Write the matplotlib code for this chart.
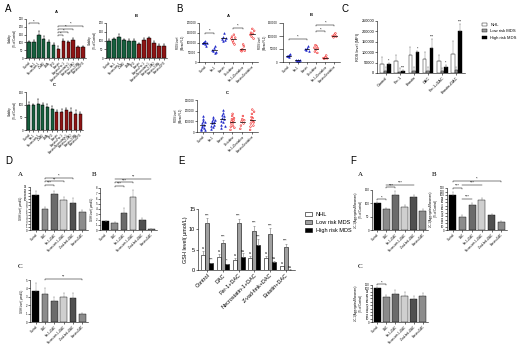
import numpy as np
import matplotlib.pyplot as plt

plt.rcParams['font.family'] = ['Liberation Sans', 'DejaVu Sans']
plt.rcParams['axes.linewidth'] = 0.4
plt.rcParams['xtick.major.width'] = 0.4
plt.rcParams['ytick.major.width'] = 0.4
plt.rcParams['xtick.major.size'] = 1.2
plt.rcParams['ytick.major.size'] = 1.2
plt.rcParams['xtick.major.pad'] = 0.8
plt.rcParams['ytick.major.pad'] = 0.8

# ---- data ----
via_labels = ["Control", "Fer-1", "Necrostatin-1", "Z-VAD", "3-MA", "DFO",
              "Erastin", "Erastin+Fer-1", "Erastin+Necrostatin-1",
              "Erastin+Z-VAD", "Erastin+3-MA", "Erastin+DFO"]
via_a = [100, 105, 148, 125, 103, 85, 60, 110, 100, 118, 68, 70]
via_a_err = [8, 10, 25, 15, 12, 10, 15, 10, 8, 12, 10, 8]
via_b = [100, 108, 122, 103, 100, 100, 80, 103, 113, 85, 70, 70]
via_b_err = [6, 8, 15, 6, 6, 6, 8, 10, 8, 10, 10, 10]
via_c = [100, 97, 102, 97, 92, 82, 72, 73, 77, 70, 65, 65]
via_c_err = [12, 5, 20, 8, 10, 12, 8, 10, 8, 15, 15, 8]

ros_labels = ["Control", "Fer-1", "Erastin", "Decitabine",
              "Fer-1+Decitabine", "Erastin+Decitabine"]
ros_a = [[100000, 95000, 105000, 90000, 110000, 80000, 98000],
         [60000, 55000, 70000, 45000, 80000, 50000],
         [120000, 110000, 130000, 150000, 115000, 125000],
         [120000, 130000, 110000, 100000, 140000, 90000, 125000],
         [60000, 55000, 65000, 90000, 80000, 58000],
         [140000, 150000, 130000, 170000, 145000, 120000, 160000]]
ros_b = [[25000, 22000, 28000, 20000, 30000],
         [6000, 4000, 8000, 5000, 7000],
         [50000, 45000, 55000, 60000, 42000],
         [55000, 40000, 65000, 48000, 60000, 35000, 52000],
         [15000, 12000, 18000, 25000, 14000],
         [100000, 95000, 105000, 110000, 98000]]
ros_c = [[20000, 30000, 45000, 60000, 80000, 100000, 120000, 150000, 40000, 70000, 15000, 90000],
         [30000, 60000, 80000, 100000, 120000, 140000, 50000, 90000, 70000, 110000],
         [40000, 70000, 100000, 130000, 160000, 210000, 180000, 90000, 120000, 150000, 60000],
         [20000, 50000, 80000, 100000, 120000, 150000, 170000, 60000, 90000, 110000, 130000, 40000],
         [30000, 60000, 100000, 120000, 150000, 80000, 110000],
         [20000, 50000, 80000, 110000, 140000, 170000, 210000, 130000, 100000, 60000, 90000, 190000]]

mfi_labels = ["Control", "Fer-1", "Erastin", "DAC", "Fer-1+DAC", "Erastin+DAC"]
mfi_nhl = [45000, 57000, 85000, 65000, 58000, 93000]
mfi_nhl_err = [30000, 30000, 40000, 35000, 28000, 60000]
mfi_low = [10000, 7000, 12000, 12000, 8000, 15000]
mfi_low_err = [20000, 15000, 18000, 15000, 15000, 15000]
mfi_high = [42000, 10000, 100000, 120000, 27000, 200000]
mfi_high_err = [5000, 3000, 5000, 45000, 10000, 35000]
mfi_stars = ["*", "***", "*", "***", "*", "***"]

gsh_labels = ["Control", "DAC", "Fer-1+DAC", "Necrostatin-1+DAC",
              "Z-vad-fmk+DAC", "Erastin+DAC"]
gsh_nhl = [3.7, 3.3, 2.45, 3.0, 2.9, 1.0]
gsh_nhl_err = [1.0, 0.7, 0.5, 0.5, 0.5, 0.1]
gsh_low = [11.5, 6.7, 11.6, 9.7, 8.8, 5.7]
gsh_low_err = [1.2, 0.8, 1.0, 1.2, 1.5, 0.7]
gsh_high = [1.7, 1.4, 3.3, 6.2, 1.9, 0.1]
gsh_high_err = [0.1, 0.1, 0.8, 1.4, 0.4, 0.05]
gsh_low_stars = ["***"] * 6
gsh_high_stars = ["***", "*", "ns", "***", "ns", "ns"]

jc_a = [100, 78, 133, 88, 123, 70]
jc_a_err = [5, 5, 12, 5, 8, 10]
jc_b = [100, 37, 72, 85, 42, 23]
jc_b_err = [8, 5, 5, 7, 3, 2]
jc_c = [100, 73, 84, 78, 68, 76]
jc_c_err = [4, 6, 12, 10, 8, 10]

# ---- helpers ----
W, H = 520, 347
GREEN, RED = "#17603f", "#8e1515"
treat_cols = ["#000000", "#8c8c8c", "#6b6b6b", "#cfcfcf", "#505050", "#8c8c8c"]


def box(l, t, r, b):
    return [l / W, 1 - b / H, (r - l) / W, (b - t) / H]


def prism(ax, fs):
    ax.spines['top'].set_visible(False)
    ax.spines['right'].set_visible(False)
    ax.tick_params(labelsize=fs)


def bars(ax, vals, errs, cols, labels, fs, ecol="black"):
    x = np.arange(len(vals))
    ax.bar(x, vals, 0.7, color=cols, edgecolor="black", linewidth=0.3)
    ax.errorbar(x, vals, yerr=[np.zeros(len(vals)), errs], fmt="none",
                ecolor=ecol, elinewidth=0.3, capsize=0.8, capthick=0.3)
    ax.set_xlim(-0.6, len(vals) - 0.4)
    ax.set_xticks(x)
    ax.set_xticklabels(labels, rotation=45, ha="right", rotation_mode="anchor")
    prism(ax, fs)


def bracket(ax, a, b, y, txt, fs, h=0.02):
    ymax = ax.get_ylim()[1]
    d = h * ymax
    ax.plot([a, a, b, b], [y - d, y, y, y - d], color="black", lw=0.35, clip_on=False)
    ax.text((a + b) / 2, y, txt, ha="center", va="bottom", fontsize=fs)


def dots(ax, groups, labels, fs):
    for i, g in enumerate(groups):
        g = np.asarray(g, dtype=float)
        off = np.linspace(-0.2, 0.2, len(g))
        c = "#1c25c8" if i < 3 else "#ee1d1d"
        m = "^" if i < 3 else "o"
        ax.scatter(i + off, g, s=1.5, marker=m, facecolors="none" if i >= 3 else c,
                   edgecolors=c, linewidths=0.4)
        ax.plot([i - 0.25, i + 0.25], [g.mean()] * 2, color="black", lw=0.5)
    ax.set_xlim(-0.6, len(groups) - 0.4)
    ax.set_xticks(np.arange(len(groups)))
    ax.set_xticklabels(labels, rotation=45, ha="right", rotation_mode="anchor")
    prism(ax, fs)


fig = plt.figure(figsize=(5.2, 3.47), dpi=100)

# ---- panel A ----
fig.text(5 / W, 1 - 12 / H, "A", fontsize=7)
via_cols = [GREEN] * 6 + [RED] * 6
for pos, vals, errs, ymax, ttl in [((26, 19, 86, 58), via_a, via_a_err, 250, "A"),
                                   ((106, 23, 167, 58), via_b, via_b_err, 200, "B"),
                                   ((26, 92, 83, 130), via_c, via_c_err, 150, "C")]:
    ax = fig.add_axes(box(*pos))
    bars(ax, vals, errs, via_cols, via_labels, 2)
    ax.set_ylim(0, ymax)
    ax.set_yticks(np.arange(0, ymax + 1, 50))
    ax.set_ylabel("Viability\n(% of Control)", fontsize=2, labelpad=1)
    ax.set_title(ttl, fontsize=3, pad=4, fontweight="bold")
    if ttl == "A":
        bracket(ax, 0, 2, 222, "*", 3)
        for j, yy in zip([11, 9, 8, 7], [205, 185, 165, 145]):
            bracket(ax, 6, j, yy, "*", 3)

# ---- panel B ----
fig.text(176 / W, 1 - 12 / H, "B", fontsize=7)
ax = fig.add_axes(box(199, 23, 258, 62))
dots(ax, ros_a, ros_labels, 2)
ax.set_ylim(0, 200000)
ax.set_yticks(np.arange(0, 200001, 50000))
ax.set_ylabel("ROS level\n(Mean FL1)", fontsize=2, labelpad=1)
ax.set_title("A", fontsize=3, pad=4, fontweight="bold")
bracket(ax, 0, 1, 150000, "*", 3)
bracket(ax, 3, 4, 175000, "*", 3)

ax = fig.add_axes(box(283, 23, 340, 62))
dots(ax, ros_b, ros_labels, 2)
ax.set_ylim(0, 150000)
ax.set_yticks(np.arange(0, 150001, 50000))
ax.tick_params(axis="y", length=3)
ax.set_ylabel("ROS level\n(Mean FL1)", fontsize=2, labelpad=1)
ax.set_title("B", fontsize=3, pad=5, fontweight="bold")
bracket(ax, 0, 2, 88000, "*", 3)
bracket(ax, 3, 4, 118000, "*", 3)
bracket(ax, 3, 5, 143000, "*", 3)

ax = fig.add_axes(box(197, 100, 258, 132))
dots(ax, ros_c, ros_labels, 2)
ax.set_ylim(0, 300000)
ax.set_yticks(np.arange(0, 300001, 100000))
ax.set_ylabel("ROS level\n(Mean FL1)", fontsize=2, labelpad=1)
ax.set_title("C", fontsize=3, pad=4, fontweight="bold")

# ---- panel C ----
fig.text(342 / W, 1 - 12 / H, "C", fontsize=7)
ax = fig.add_axes(box(377, 21, 465, 73))
x = np.arange(len(mfi_labels))
w = 0.25
ax.bar(x - w, mfi_nhl, w, color="white", edgecolor="black", linewidth=0.3, label="NHL")
ax.bar(x, mfi_low, w, color="#9a9a9a", edgecolor="black", linewidth=0.3, label="Low risk MDS")
ax.bar(x + w, mfi_high, w, color="black", edgecolor="black", linewidth=0.3, label="High risk MDS")
for off, v, e in [(-w, mfi_nhl, mfi_nhl_err), (0, mfi_low, mfi_low_err), (w, mfi_high, mfi_high_err)]:
    ax.errorbar(x + off, v, yerr=[np.zeros(len(v)), e], fmt="none", ecolor="#777777",
                elinewidth=0.3, capsize=0.8, capthick=0.3)
for i, s in enumerate(mfi_stars):
    ax.text(x[i] + w, mfi_high[i] + mfi_high_err[i] + 2000, s, ha="center", va="bottom", fontsize=2.5)
ax.set_ylim(0, 250000)
ax.set_yticks(np.arange(0, 250001, 50000))
ax.set_xlim(-0.6, len(x) - 0.4)
ax.set_xticks(x)
ax.set_xticklabels(mfi_labels, rotation=45, ha="right", rotation_mode="anchor")
ax.set_ylabel("ROS level (MFI)", fontsize=2.8, labelpad=1)
prism(ax, 2.8)
ax.legend(loc="upper left", bbox_to_anchor=(1.15, 1.04), frameon=False, fontsize=3,
          handlelength=1.2, handleheight=0.8, labelspacing=0.6)

# ---- panel D ----
fig.text(5 / W, 1 - 164 / H, "D", fontsize=7)
serif = ["Liberation Serif", "DejaVu Serif"]
for pos, vals, errs, ymax, step, ttl, tpos in [
        ((30, 187, 88, 230), gsh_low, gsh_low_err, 14, 1, "A", (18, 176)),
        ((100, 188, 157, 230), gsh_high, gsh_high_err, 8, 1, "B", (92, 176)),
        ((30, 280, 88, 322), gsh_nhl, gsh_nhl_err, 5, 1, "C", (18, 268))]:
    ax = fig.add_axes(box(*pos))
    bars(ax, vals, errs, treat_cols, gsh_labels, 2, ecol="#888888")
    ax.set_ylim(0, ymax)
    ax.set_yticks(np.arange(0, ymax + 0.01, step))
    ax.set_ylabel("GSH level( μmol/L)", fontsize=2, labelpad=1)
    fig.text(tpos[0] / W, 1 - tpos[1] / H, ttl, fontsize=5, family=serif)
    if ttl == "A":
        bracket(ax, 1, 2, 14.6, "***", 3)
        bracket(ax, 1, 3, 15.8, "**", 3)
        bracket(ax, 1, 4, 17.0, "*", 3)
    elif ttl == "B":
        bracket(ax, 1, 2, 8.4, "***", 3)
        bracket(ax, 1, 3, 9.1, "***", 3)
        bracket(ax, 1, 5, 9.8, "**", 3)
    else:
        bracket(ax, 1, 5, 5.15, "**", 3)

# ---- panel E ----
fig.text(178 / W, 1 - 164 / H, "E", fontsize=7)
ax = fig.add_axes(box(198, 209, 295, 270))
x = np.arange(len(gsh_labels))
w = 0.26
ax.bar(x - w, gsh_nhl, w, color="white", edgecolor="black", linewidth=0.4, label="NHL")
ax.bar(x, gsh_low, w, color="#a0a0a0", edgecolor="black", linewidth=0.4, label="Low risk MDS")
ax.bar(x + w, gsh_high, w, color="black", edgecolor="black", linewidth=0.4, label="High risk MDS")
for off, v, e in [(-w, gsh_nhl, gsh_nhl_err), (0, gsh_low, gsh_low_err), (w, gsh_high, gsh_high_err)]:
    ax.errorbar(x + off, v, yerr=[np.zeros(len(v)), e], fmt="none", ecolor="#777777",
                elinewidth=0.4, capsize=1, capthick=0.4)
for i in range(len(x)):
    ax.text(x[i], gsh_low[i] + gsh_low_err[i] + 0.2, gsh_low_stars[i], ha="center", va="bottom", fontsize=2.8)
    ax.text(x[i] + w, gsh_high[i] + gsh_high_err[i] + 0.2, gsh_high_stars[i], ha="center", va="bottom", fontsize=2.8)
    ax.text(x[i] - w, gsh_nhl[i] + gsh_nhl_err[i] + 0.2, "a", ha="center", va="bottom", fontsize=2.5)
ax.set_ylim(0, 15)
ax.set_yticks([0, 5, 10, 15])
ax.set_xlim(-0.6, len(x) - 0.4)
ax.set_xticks(x)
ax.set_xticklabels(gsh_labels, rotation=45, ha="right", rotation_mode="anchor")
ax.set_ylabel("GSH level( μmol/L)", fontsize=4, labelpad=1)
prism(ax, 4)
ax.legend(loc="upper left", bbox_to_anchor=(1.05, 1.03), frameon=False, fontsize=4,
          handlelength=1.2, handleheight=0.8, labelspacing=0.5)

# ---- panel F ----
fig.text(350 / W, 1 - 164 / H, "F", fontsize=7)
for pos, vals, errs, ymax, step, ttl, tpos in [
        ((372, 190, 428, 230), jc_a, jc_a_err, 150, 50, "A", (358, 176)),
        ((447, 188, 507, 230), jc_b, jc_b_err, 120, 10, "B", (432, 176)),
        ((372, 285, 428, 322), jc_c, jc_c_err, 110, 10, "C", (358, 268))]:
    ax = fig.add_axes(box(*pos))
    bars(ax, vals, errs, treat_cols, gsh_labels, 2, ecol="#888888")
    ax.set_ylim(0, ymax)
    ax.set_yticks(np.arange(0, ymax + 0.01, step))
    ax.set_ylabel("JC-1(Aggregates/Monomers)\n(% of Control)", fontsize=2, labelpad=1)
    fig.text(tpos[0] / W, 1 - tpos[1] / H, ttl, fontsize=5, family=serif)
    if ttl == "A":
        bracket(ax, 0, 1, 115, "*", 3)
        bracket(ax, 1, 2, 160, "***", 3)
        bracket(ax, 1, 4, 170, "***", 3)
    elif ttl == "B":
        bracket(ax, 1, 2, 90, "***", 3)
        bracket(ax, 0, 1, 120, "***", 3)
        bracket(ax, 1, 3, 130, "***", 3)
        bracket(ax, 0, 5, 140, "*", 3)
    else:
        bracket(ax, 0, 1, 112, "*", 3)

fig.savefig("out.png", dpi=100)
